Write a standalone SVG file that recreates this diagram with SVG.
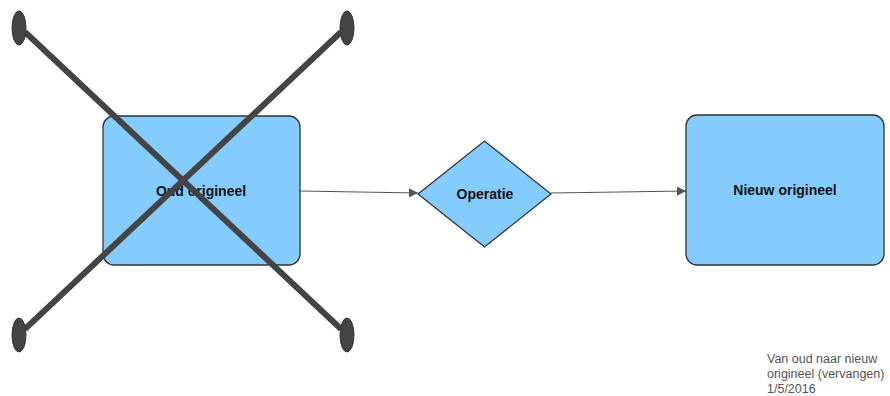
<svg xmlns="http://www.w3.org/2000/svg" width="890" height="396" viewBox="0 0 890 396">
<defs>
<style>
.shape{fill:#84CBFE;stroke:#333;stroke-width:1.3}
.lbl{font-family:"Liberation Sans",Arial,sans-serif;font-size:14px;font-weight:bold;fill:#111;text-anchor:middle;dominant-baseline:central}
.conn{stroke:#555;stroke-width:1.2;fill:none}
.cross{stroke:#444;stroke-width:6;fill:none}
.end{fill:#444;stroke:#333;stroke-width:1}
.note{font-family:"Liberation Sans",Arial,sans-serif;font-size:12.5px;fill:#555}
</style>
<marker id="arr" viewBox="0 0 10 10" refX="10" refY="5" markerWidth="9" markerHeight="9" markerUnits="userSpaceOnUse" orient="auto">
<path d="M0,0 L10,5 L0,10 z" fill="#555"/>
</marker>
</defs>
<rect width="890" height="396" fill="#fff"/>
<g id="connectors">
<path class="conn" d="M300,191 L418,193" marker-end="url(#arr)"/>
<path class="conn" d="M551,193 L686,191" marker-end="url(#arr)"/>
</g>
<g id="oud">
<rect class="shape" x="103" y="116" width="197" height="149" rx="11"/>
<text class="lbl" x="201" y="191">Oud origineel</text>
</g>
<g id="operatie">
<polygon class="shape" points="418,194 484.5,141 551,194 484.5,247"/>
<text class="lbl" x="485" y="194">Operatie</text>
</g>
<g id="nieuw">
<rect class="shape" x="686" y="115" width="198" height="150" rx="11"/>
<text class="lbl" x="785" y="190">Nieuw origineel</text>
</g>
<g id="cross">
<line class="cross" x1="25" y1="32" x2="341" y2="329"/>
<line class="cross" x1="341" y1="32" x2="25" y2="329"/>
<ellipse class="end" cx="19" cy="28" rx="7" ry="17"/>
<ellipse class="end" cx="347" cy="28" rx="7" ry="17"/>
<ellipse class="end" cx="19" cy="335" rx="7" ry="17"/>
<ellipse class="end" cx="347" cy="335" rx="7" ry="17"/>
</g>
<g id="note">
<text class="note" x="767" y="363">Van oud naar nieuw</text>
<text class="note" x="767" y="378">origineel (vervangen)</text>
<text class="note" x="767" y="393">1/5/2016</text>
</g>
</svg>
